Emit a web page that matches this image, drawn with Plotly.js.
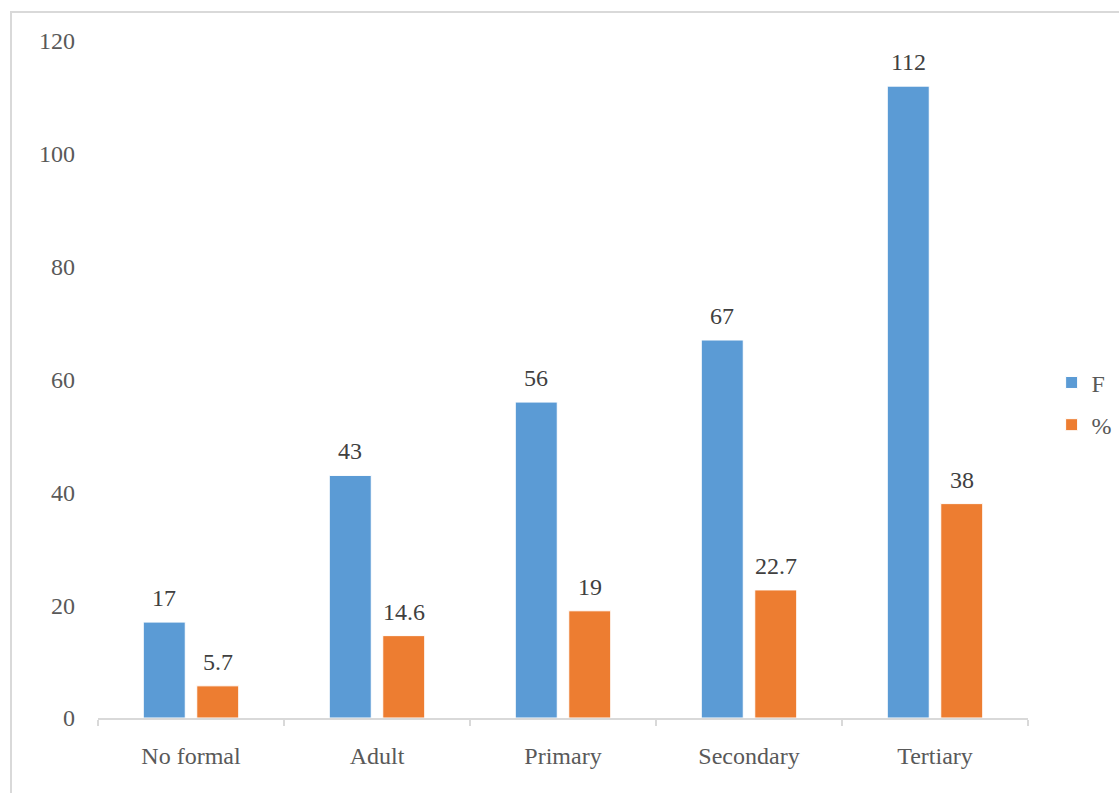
<!DOCTYPE html>
<html>
<head>
<meta charset="utf-8">
<script src="https://cdn.plot.ly/plotly-3.0.1.min.js"></script>
<style>
  html, body { margin: 0; padding: 0; background: #ffffff; overflow: hidden; }
  #frame {
    position: absolute; left: 10px; top: 11px; right: -10px; bottom: -10px;
    border-left: 2px solid #d9d9d9; border-top: 2px solid #d9d9d9;
    pointer-events: none; z-index: 5;
  }
  #chart { width: 1119px; height: 793px; }
</style>
</head>
<body>
<div id="chart"></div>
<div id="frame"></div>
<script>
// Education level categories and the two series
const categories = ["No formal", "Adult", "Primary", "Secondary", "Tertiary"];
const freqValues = [17, 43, 56, 67, 112];
const pctValues = [5.7, 14.6, 19, 22.7, 38];
const seriesNames = ["F", "%"];
const yTicks = [0, 20, 40, 60, 80, 100, 120];

const serif = "Liberation Serif, Times New Roman, serif";
const blue = "#5b9bd5";
const orange = "#ed7d31";
const fontSize = 24;

const traces = [
  {
    type: "bar", name: seriesNames[0], x: categories, y: freqValues,
    marker: { color: blue, line: { color: "#ffffff", width: 1 } },
    legendgroup: "a", hoverinfo: "x+y"
  },
  {
    type: "bar", name: seriesNames[1], x: categories, y: pctValues,
    marker: { color: orange, line: { color: "#ffffff", width: 1 } },
    legendgroup: "b", hoverinfo: "x+y"
  }
];

// Value labels above each bar, taken from the same arrays
const annotations = [];
const halfOffset = 26.75;
categories.forEach((c, i) => {
  annotations.push({
    x: c, y: freqValues[i], text: String(freqValues[i]), showarrow: false,
    xshift: -halfOffset, yshift: 24, yanchor: "middle",
    font: { family: serif, size: fontSize, color: "#404040" }
  });
  annotations.push({
    x: c, y: pctValues[i], text: String(pctValues[i]), showarrow: false,
    xshift: halfOffset, yshift: 24, yanchor: "middle",
    font: { family: serif, size: fontSize, color: "#404040" }
  });
});

const layout = {
  width: 1119, height: 793,
  margin: { l: 98, r: 91, t: 41, b: 75, autoexpand: false },
  paper_bgcolor: "#ffffff", plot_bgcolor: "#ffffff",
  barmode: "group", bargap: 0.425, bargroupgap: 0.215,
  font: { family: serif, size: fontSize, color: "#595959" },
  xaxis: {
    type: "category", showgrid: false, showline: true, linecolor: "#d9d9d9", linewidth: 1.5,
    ticks: "outside", tickson: "boundaries", ticklen: 6, tickcolor: "#d9d9d9", tickwidth: 1.5,
    ticklabelstandoff: 16, automargin: false,
    tickfont: { family: serif, size: fontSize, color: "#595959" }, zeroline: false
  },
  yaxis: {
    range: [0, 120], tickvals: yTicks, ticktext: yTicks.map(String),
    showgrid: false, showline: false, zeroline: false, ticks: "",
    ticklabelstandoff: 22, automargin: false,
    tickfont: { family: serif, size: fontSize, color: "#595959" }
  },
  legend: {
    x: 1.0254, y: 0.464, xanchor: "left", yanchor: "middle",
    font: { family: serif, size: fontSize, color: "#595959" },
    traceorder: "grouped", tracegroupgap: 8,
    itemwidth: 30, bgcolor: "rgba(0,0,0,0)"
  },
  annotations: annotations,
  showlegend: true
};

Plotly.newPlot("chart", traces, layout, { displayModeBar: false, staticPlot: true });
</script>
</body>
</html>
